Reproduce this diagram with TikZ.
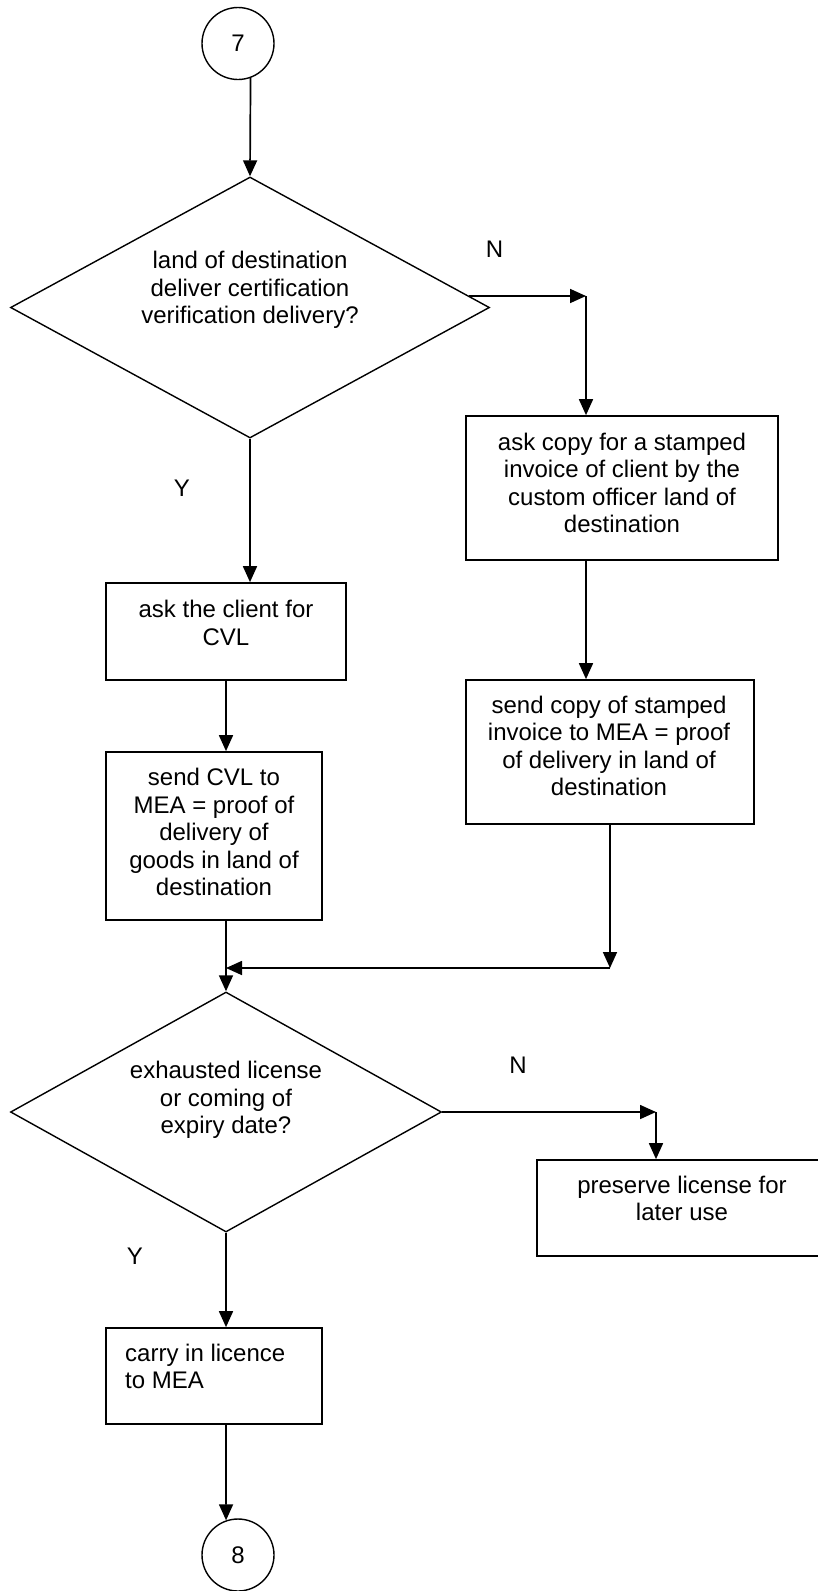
\documentclass[tikz,border=0pt]{standalone}
\usepackage{fontspec}
\setmainfont{Liberation Sans}
\usetikzlibrary{shapes.geometric,arrows.meta,calc}

\begin{document}
\begin{tikzpicture}[x=1pt,y=-1pt,
  every node/.style={font=\fontsize{24}{27.5}\selectfont, inner sep=0pt},
  boxshape/.style={draw, rectangle, line width=1.7pt},
  decision/.style={draw, diamond, line width=1.4pt},
  connector/.style={draw, circle, line width=1.4pt, minimum size=72pt},
  txt/.style={align=center},
  flow/.style={line width=1.7pt, -{Triangle[length=16pt,width=14pt]}}
]
\useasboundingbox (0,0) rectangle (818,1591);
\clip (0,0) rectangle (818,1591);

% off-page connectors
\node[connector] (c7) at (238,43.5) {7};
\node[connector] (c8) at (238,1555) {8};

% first decision
\node[decision, minimum width=479pt, minimum height=261pt] (d1) at (250,307.5) {};
\node[txt] (t1) at (250,290) {land of destination\\deliver certification\\verification delivery?};
\node (lblN1) at (494.5,249) {N};
\node (lblY1) at (182,488) {Y};

% right branch
\node[boxshape, minimum width=312pt, minimum height=144pt] (r1) at (622,488) {};
\node[txt] (tr1) at (622,483) {ask copy for a stamped\\invoice of client by the\\custom officer land of\\destination};
\node[boxshape, minimum width=288pt, minimum height=144pt] (r2) at (610,752) {};
\node[txt] (tr2) at (609,746) {send copy of stamped\\invoice to MEA = proof\\of delivery in land of\\destination};

% left branch
\node[boxshape, minimum width=240pt, minimum height=97pt] (l1) at (226,631.5) {};
\node[txt] (tl1) at (226,623) {ask the client for\\CVL};
\node[boxshape, minimum width=216pt, minimum height=168pt] (l2) at (214,836) {};
\node[txt] (tl2) at (214,832) {send CVL to\\MEA = proof of\\delivery of\\goods in land of\\destination};

% second decision
\node[decision, minimum width=431pt, minimum height=240pt] (d2) at (226,1112) {};
\node[txt] (t2) at (226,1100) {exhausted license\\or coming of\\expiry date?};
\node (lblN2) at (518,1065) {N};
\node (lblY2) at (135,1256) {Y};

\node[boxshape, minimum width=291pt, minimum height=96pt] (r3) at (682.5,1208) {};
\node[txt] (tr3) at (682,1198.5) {preserve license for\\later use};
\node[boxshape, minimum width=216pt, minimum height=96pt] (l3) at (214,1376) {};
\node[align=left, anchor=west] (tl3) at (125,1366.5) {carry in licence\\to MEA};

% connectors
\draw[flow] (c7.-70.5) -- (d1.north);

\coordinate (k1) at (586,296);
\draw[flow] ($(d1.north)!0.912!(d1.east)$) -- (k1);
\draw[flow] (k1) -- (k1 |- r1.north);
\draw[flow] (k1 |- r1.south) -- (k1 |- r2.north);

\draw[flow] (d1.south) -- (d1.south |- l1.north);
\draw[flow] (l1.south) -- (l1.south |- l2.north);

\coordinate (k2) at (610,968);
\draw[flow] (r2.south) -- (k2);
\draw[flow] (k2) -- (k2 -| d2.north);
\draw[flow] (d2.north |- l2.south) -- (d2.north);

\coordinate (k3) at (656,1112);
\draw[flow] (d2.east) -- (k3);
\draw[flow] (k3) -- (k3 |- r3.north);

\draw[flow] (d2.south) -- (d2.south |- l3.north);
\draw[flow] (d2.south |- l3.south) -- (c8.109.5);
\end{tikzpicture}
\end{document}
